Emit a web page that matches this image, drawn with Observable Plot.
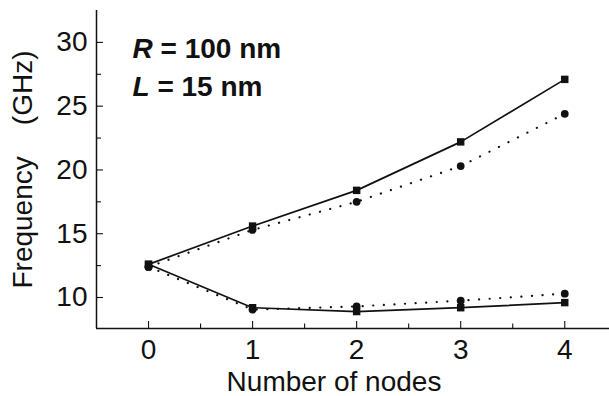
<!DOCTYPE html>
<html><head><meta charset="utf-8">
<script src="https://cdn.jsdelivr.net/npm/d3@7"></script>
<script src="https://cdn.jsdelivr.net/npm/@observablehq/plot@0.6"></script>
<style>
html,body{margin:0;padding:0;background:#fff;}
</style></head><body><div id="chart"></div>
<script>
// ---- data ----
const nodes = [0, 1, 2, 3, 4];
const upperSquares = [12.6, 15.6, 18.4, 22.2, 27.1];
const upperCircles = [12.4, 15.3, 17.5, 20.3, 24.4];
const lowerSquares = [12.6, 9.2, 8.9, 9.2, 9.6];
const lowerCircles = [12.4, 9.05, 9.3, 9.75, 10.3];
const yMajor = [10, 15, 20, 25, 30];
const yMinor = [12.5, 17.5, 22.5, 27.5];
const xMajor = [0, 1, 2, 3, 4];
const xMinor = [0.5, 1.5, 2.5, 3.5];
const xDomain = [-0.5, 4.43];
const yDomain = [7.57, 32.5];
const annotations = [{v: "R", rest: " = 100 nm"}, {v: "L", rest: " = 15 nm"}];
const xLabel = "Number of nodes";
const yLabel = "Frequency\u00a0\u00a0\u00a0\u00a0(GHz)";

const series = [
  {name: "upperSq", values: upperSquares, kind: "square"},
  {name: "upperCi", values: upperCircles, kind: "circle"},
  {name: "lowerSq", values: lowerSquares, kind: "square"},
  {name: "lowerCi", values: lowerCircles, kind: "circle"}
];
const rows = series.flatMap(s => nodes.map((n, i) => ({node: n, freq: s.values[i], series: s.name, kind: s.kind})));
const sq = rows.filter(d => d.kind === "square");
const ci = rows.filter(d => d.kind === "circle");

const W = 609, H = 396, mL = 96, mT = 10, mR = 0, mB = 68;
const fw = W - mL - mR, fh = H - mT - mB;
const ink = "#111";
const font = "'Liberation Sans', Arial, Helvetica, sans-serif";

const chart = Plot.plot({
  width: W, height: H,
  marginLeft: mL, marginTop: mT, marginRight: mR, marginBottom: mB,
  x: {domain: xDomain},
  y: {domain: yDomain},
  style: {fontFamily: font, background: "#fff", color: ink},
  marks: [
    Plot.ruleX([xDomain[0]], {stroke: ink, strokeWidth: 1.5}),
    Plot.ruleY([yDomain[0]], {stroke: ink, strokeWidth: 1.5}),
    Plot.tickY(yMajor, {y: d => d, insetRight: fw - 7, stroke: ink, strokeWidth: 1.1}),
    Plot.tickY(yMinor, {y: d => d, insetRight: fw - 5, stroke: ink, strokeWidth: 1.1}),
    Plot.tickX(xMajor, {x: d => d, insetTop: fh - 7, stroke: ink, strokeWidth: 1.1}),
    Plot.tickX(xMinor, {x: d => d, insetTop: fh - 4.5, stroke: ink, strokeWidth: 1.1}),
    Plot.axisY(yMajor, {tickSize: 0, tickPadding: 9, fontSize: 28, label: null}),
    Plot.axisX(xMajor, {tickSize: 0, tickPadding: 11, fontSize: 28, label: null}),
    Plot.line(sq, {x: "node", y: "freq", z: "series", stroke: ink, strokeWidth: 1.7}),
    Plot.line(ci, {x: "node", y: "freq", z: "series", stroke: ink, strokeWidth: 2.2,
      strokeDasharray: "0.1 10.5", strokeLinecap: "round"}),
    Plot.dot(ci, {x: "node", y: "freq", r: 3.9, fill: ink}),
    Plot.dot(sq, {x: "node", y: "freq", symbol: "square", r: 4.2, fill: ink}),
    Plot.text([annotations[0]], {text: d => d.v + d.rest, frameAnchor: "top-left", dx: 36, dy: 47,
      lineAnchor: "bottom", textAnchor: "start", fontSize: 28, fontWeight: "bold"}),
    Plot.text([annotations[1]], {text: d => d.v + d.rest, frameAnchor: "top-left", dx: 36, dy: 85,
      lineAnchor: "bottom", textAnchor: "start", fontSize: 28, fontWeight: "bold"}),
    Plot.text([yLabel], {text: d => d, frameAnchor: "left", textAnchor: "middle", rotate: -90, dx: -73, fontSize: 28}),
    Plot.text([xLabel], {text: d => d, frameAnchor: "bottom", textAnchor: "middle", dx: -19, dy: 62, lineAnchor: "bottom", fontSize: 28})
  ]
});

// italicize the variable letter in the annotations
const annTexts = annotations.map(a => a.v + a.rest);
d3.select(chart).selectAll("text").each(function() {
  const t = this.textContent;
  if (!annTexts.includes(t)) return;
  const sel = d3.select(this);
  sel.text("");
  sel.append("tspan").attr("font-style", "italic").text(t.slice(0, 1));
  sel.append("tspan").text(t.slice(1));
});

document.getElementById("chart").appendChild(chart);
</script>
</body></html>
